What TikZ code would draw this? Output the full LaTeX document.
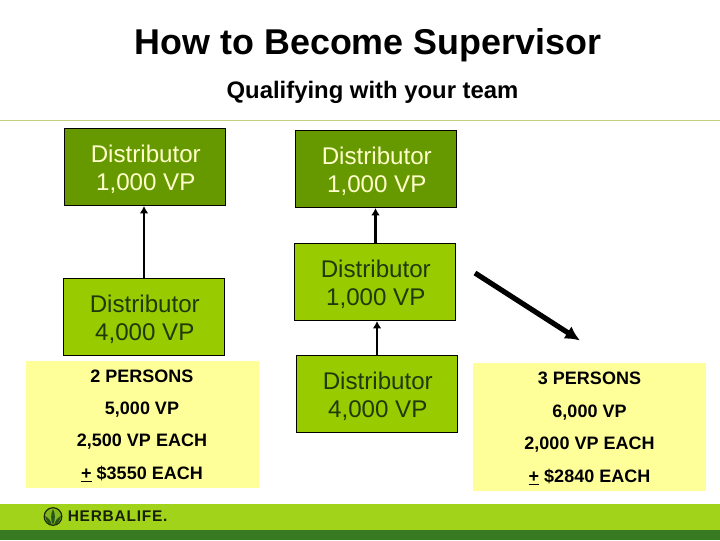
\documentclass[tikz,border=0pt]{standalone}
\usepackage{fontspec}
\setmainfont{Liberation Sans}
\usetikzlibrary{arrows.meta}
\definecolor{darkg}{HTML}{669900}
\definecolor{lightg}{HTML}{99CC00}
\definecolor{paley}{HTML}{FFFF99}
\definecolor{band}{HTML}{A2D31B}
\definecolor{bandd}{HTML}{387A22}
\definecolor{rulec}{HTML}{C3D17F}
\definecolor{textg}{HTML}{FFFFCC}
\definecolor{texttd}{HTML}{1F3A0A}
\newcommand{\disttext}[1]{\parbox{100pt}{\vspace*{3pt}\centering\hspace*{1.2pt}Distributor\\\hspace*{1.2pt}#1}}
\tikzset{
 x=0.75pt,y=-0.75pt,
 distbox/.style={draw=black,line width=0.6pt,minimum width=121pt,minimum height=58pt,inner sep=0pt,align=center,font=\fontsize{18.1pt}{21pt}\selectfont},
 upper/.style={distbox,fill=darkg,text=textg},
 lower/.style={distbox,fill=lightg,text=texttd},
 panel/.style={fill=paley,draw=none,minimum width=174.75pt,minimum height=95.5pt,inner sep=0pt},
 paneltext/.style={font=\fontsize{13.5pt}{14pt}\selectfont\bfseries,inner sep=0pt,anchor=base},
 link/.style={draw=black,line width=1.3pt,-{Latex[length=5.5pt,width=6.5pt]}},
}
\begin{document}
\begin{tikzpicture}
\useasboundingbox (0,0) rectangle (720,540);
\fill[white] (0,0) rectangle (720,540);
\node[font=\fontsize{26.9pt}{30pt}\selectfont\bfseries,inner sep=0pt] (title) at (368,45) {How to Become Supervisor};
\node[font=\fontsize{17.9pt}{21pt}\selectfont,inner sep=0pt] (sub) at (372.5,92) {\textbf{Qualifying with your team}};
\coordinate (ruleL) at (0,120.5);
\coordinate (ruleR) at (720,120.5);
\draw[rulec,line width=0.75pt] (ruleL) -- (ruleR);
\node[panel] (pl) at (142.5,424.5) {};
\node[panel] (pr) at (589.5,427) {};
\node[upper] (a) at (145,167) {\disttext{1,000 VP}};
\node[upper] (b) at (376,169) {\disttext{1,000 VP}};
\node[lower] (c) at (144,317) {\disttext{4,000 VP}};
\node[lower] (d) at (375,282) {\disttext{1,000 VP}};
\node[lower] (e) at (377,394) {\disttext{4,000 VP}};
\draw[link] (c.north -| 144,0) -- (a.south -| 144,0);
\draw[link,line width=2pt] (d.north -| 375.5,0) -- (b.south -| 375.5,0);
\draw[link] (e.north) -- (d.south -| 377,0);
\coordinate (bigS) at (475,273);
\coordinate (bigE) at (580,340.5);
\draw[black,line width=3.9pt,-{Latex[length=11pt,width=11pt]}] (bigS) -- (bigE);
\node[paneltext] (l1) at (142,382) {2 PERSONS};
\node[paneltext] (l2) at (142,414) {5,000 VP};
\node[paneltext] (l3) at (142,446) {2,500 VP EACH};
\node[paneltext] (l4) at (142,479) {\underline{+} \$3550 EACH};
\node[paneltext] (r1) at (589.5,384) {3 PERSONS};
\node[paneltext] (r2) at (589.5,417) {6,000 VP};
\node[paneltext] (r3) at (589.5,449) {2,000 VP EACH};
\node[paneltext] (r4) at (589.5,482) {\underline{+} \$2840 EACH};
\fill[band] (0,504) rectangle (720,530);
\fill[bandd] (0,530) rectangle (720,540);
\draw[black!80!band,line width=0.9pt,fill=band!70!bandd] (53,516.5) circle (8.8);
\fill[bandd!70!black] (53,509) .. controls (50.5,514) and (50.5,520) .. (53,525) .. controls (55.5,520) and (55.5,514) .. (53,509);
\fill[bandd!70!black] (45,516) .. controls (46,521) and (49,524.5) .. (52,525) .. controls (51,521) and (49,518) .. (45,516);
\fill[bandd!70!black] (61,516) .. controls (60,521) and (57,524.5) .. (54,525) .. controls (55,521) and (57,518) .. (61,516);
\node[anchor=west,inner sep=0pt,text=black!85!band,font=\fontsize{11.6pt}{12pt}\selectfont\bfseries\addfontfeature{LetterSpace=5}] (logo) at (67.5,516.5) {HERBALIFE.};
\end{tikzpicture}
\end{document}
